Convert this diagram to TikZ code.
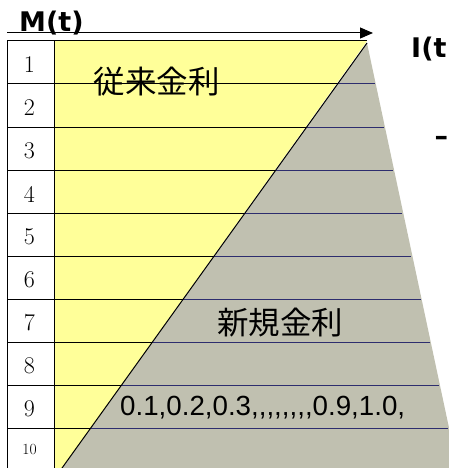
\documentclass[tikz,border=0pt]{standalone}
\usepackage{fontspec}
\newfontfamily\jpfont{Noto Sans CJK JP}
\newfontfamily\arialfont{Liberation Sans}
\newfontfamily\djvfont{DejaVu Sans}
\usetikzlibrary{arrows.meta}
\definecolor{yellowbg}{RGB}{255,255,153}
\definecolor{graybg}{RGB}{192,192,176}
\definecolor{navyline}{RGB}{45,45,110}
\tikzset{
  rowlbl/.style={inner sep=0pt, font=\fontsize{24}{24}\selectfont},
  jptext/.style={inner sep=0pt, font=\jpfont\fontsize{31.5}{32}\selectfont},
  axistext/.style={inner sep=0pt, anchor=base west, font=\djvfont\bfseries\fontsize{27}{27}\selectfont},
  numtext/.style={inner sep=0pt, anchor=base west, font=\arialfont\fontsize{27.7}{28}\selectfont},
  thinline/.style={line width=1pt}
}
\begin{document}
\begin{tikzpicture}[x=1pt,y=-1pt]
\useasboundingbox (0,0) rectangle (449,468);
\clip (0,0) rectangle (449,468);
% fills
\fill[yellowbg] (54,41) -- (367,41) -- (60.6,470) -- (54,470) -- cycle;
\fill[graybg] (367,43) -- (458,470) -- (60.6,470) -- cycle;
% horizontal row lines
\foreach \i in {1,...,9} {
  \pgfmathsetmacro\yy{41+43*\i}
  \pgfmathsetmacro\xd{367-(\yy-43)*0.7176}
  \pgfmathsetmacro\xr{366+(\yy-44)*0.214}
  \draw[thinline,black] (7,\yy) -- (\xd,\yy);
  \draw[thinline,navyline] (\xd,\yy) -- (\xr,\yy);
}
% diagonal
\coordinate (dtop) at (367,43);
\coordinate (dbot) at (60.6,470);
\draw[thinline] (dtop) -- (dbot);
% table borders
\coordinate (tl) at (7,41);
\coordinate (tr) at (367,41);
\coordinate (bl) at (7,470);
\coordinate (dl) at (54,41);
\coordinate (db) at (54,470);
\draw[thinline] (tr) -- (tl) -- (bl);
\draw[thinline] (dl) -- (db);
% arrow
\coordinate (as) at (7,33);
\coordinate (ae) at (373,33);
\draw[thinline,-{Triangle[length=13pt,width=11pt]}] (as) -- (ae);
% row labels
\foreach \i in {1,...,9} {
  \node[rowlbl] (r\i) at (29.5,{41+43*\i-21.5+2.5}) {\i};
}
\node[rowlbl, font=\fontsize{15.5}{15.5}\selectfont] (r10) at (29.5,449) {10};
% texts
\node[axistext] (mt) at (19,32) {M(t)};
\node[axistext] (it) at (411,58) {I(t};
\node[axistext] (dash) at (434.5,145) {–};
\node[jptext] (old) at (156.5,82) {従来金利};
\node[jptext] (new) at (280,323) {新規金利};
\node[numtext] (vals) at (120,415) {0.1,0.2,0.3,,,,,,,,0.9,1.0,};
\end{tikzpicture}
\end{document}
